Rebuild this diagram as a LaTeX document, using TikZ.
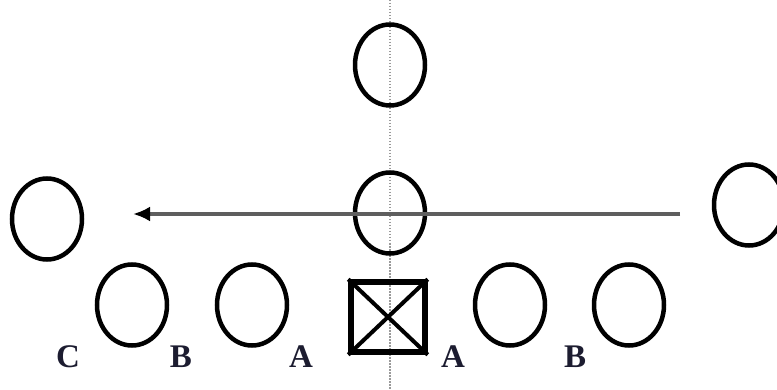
\documentclass[tikz,border=0pt]{standalone}
\usepackage{fontspec}
\setmainfont{Liberation Serif}
\usetikzlibrary{shapes.geometric,arrows.meta}
\definecolor{ArrowGray}{HTML}{5e5e5e}
\definecolor{LineGray}{HTML}{9a9a9a}
\definecolor{LabelInk}{HTML}{1c1c30}
\newcommand{\gapfont}{\fontsize{33}{33}\selectfont\bfseries}
\tikzset{
  player/.style={ellipse, draw=black, line width=4.5pt, minimum width=70pt,
                 minimum height=81pt, inner sep=0pt},
  centerbox/.style={rectangle, draw=black, line width=5.5pt,
                    minimum width=74pt, minimum height=70pt, inner sep=0pt},
  crossline/.style={draw=black, line width=4pt},
  runarrow/.style={-{Latex[length=17pt,width=15pt,color=black]},
                   draw=ArrowGray, line width=3.5pt},
  midline/.style={draw=LineGray, line width=2pt, dash pattern=on 1.5pt off 1.5pt},
  gaplabel/.style={text=LabelInk, font=\gapfont, anchor=base, inner sep=0pt},
}

\begin{document}
\begin{tikzpicture}[x=1pt,y=-1pt]
  \useasboundingbox (0,0) rectangle (777,390);

  % --- centre line ---------------------------------------------------------
  \coordinate (axis-top) at (390,0);
  \coordinate (axis-bot) at (390,390);
  \draw[midline] (axis-top) -- (axis-bot);

  % --- defenders -----------------------------------------------------------
  \node[player] (deep) at (390,65) {};
  \node[player] (backer) at (390,213) {};
  \node[player] (wide-left) at (47,219) {};
  \node[player] (wide-right) at (749,205) {};

  % --- offensive line ------------------------------------------------------
  \foreach \name/\xpos in {tackleL/132, guardL/252, guardR/510, tackleR/629} {
    \node[player] (\name) at (\xpos,305) {};
  }
  \node[centerbox] (snapper) at (388,317) {};
  \draw[crossline] (snapper.north west) -- (snapper.south east);
  \draw[crossline] (snapper.north east) -- (snapper.south west);

  % --- motion --------------------------------------------------------------
  \coordinate (run-start) at (680,214);
  \coordinate (run-end) at (133,214);
  \draw[runarrow] (run-start) -- (run-end);

  % --- gap labels ----------------------------------------------------------
  \foreach \gap/\xpos in {C/68, B/181, A/301, A/453, B/575} {
    \node[gaplabel] (gap-\xpos) at (\xpos,367) {\gap};
  }

\end{tikzpicture}
\end{document}
